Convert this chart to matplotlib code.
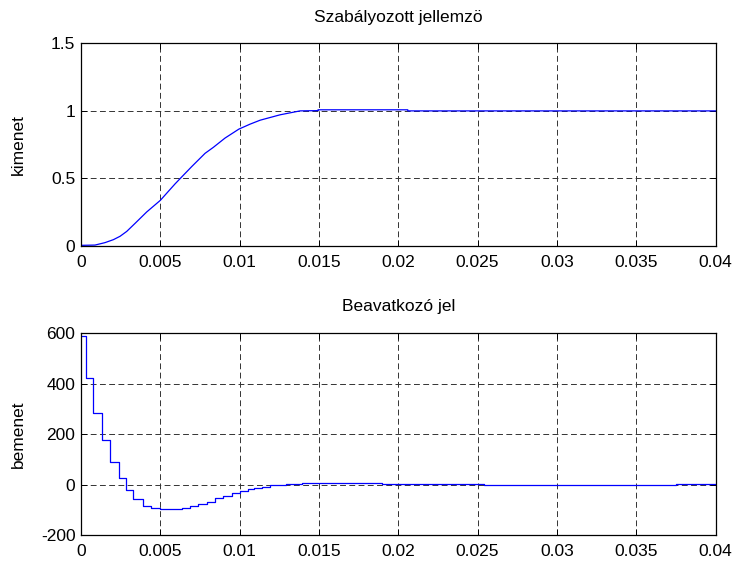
import matplotlib
matplotlib.use("Agg")
import matplotlib.pyplot as plt

# controlled variable (plant output)
t_out = [0, 0.00088, 0.00151, 0.00204, 0.00246, 0.00288, 0.00341, 0.00414,
         0.0050, 0.00551, 0.00593, 0.00624, 0.00698, 0.00782, 0.00834,
         0.00908, 0.00995, 0.01066, 0.01129, 0.01255, 0.01381, 0.01494,
         0.01494, 0.0206, 0.0206, 0.04]
y_out = [0.005, 0.007, 0.025, 0.047, 0.072, 0.108, 0.168, 0.252,
         0.338, 0.405, 0.46, 0.498, 0.588, 0.686, 0.73,
         0.799, 0.865, 0.902, 0.931, 0.971, 1.0, 1.002,
         1.008, 1.008, 1.0, 1.0]

# manipulated variable (controller output), held between samples
t_in = [0, 0.0003, 0.00078, 0.00134, 0.00183, 0.00242, 0.00282, 0.0033,
        0.0039, 0.0044, 0.005, 0.00635, 0.00687, 0.0074, 0.00793, 0.00845,
        0.00897, 0.0095, 0.01003, 0.01055, 0.0109, 0.0114, 0.0119, 0.0129,
        0.0139, 0.019, 0.0254, 0.0375, 0.04]
u_in = [590, 424, 286, 176, 91, 28, -22, -58,
        -83, -92, -96, -92, -84, -77, -67, -54,
        -45, -34, -25, -17, -12, -7, -1, 3,
        9, 3, 0, 2, 2]

xticks = [0, 0.005, 0.01, 0.015, 0.02, 0.025, 0.03, 0.035, 0.04]
xticklabels = ["0", "0.005", "0.01", "0.015", "0.02", "0.025", "0.03", "0.035", "0.04"]

plt.rcParams["font.family"] = ["Liberation Sans", "DejaVu Sans"]
plt.rcParams["font.size"] = 12.5
plt.rcParams["axes.unicode_minus"] = False

fig = plt.figure(figsize=(7.4, 5.64), dpi=100)
ax1 = fig.add_axes([0.1095, 0.5638, 0.8574, 0.3594])
ax2 = fig.add_axes([0.1095, 0.0509, 0.8574, 0.3581])

gridkw = {"color": "0.2", "linestyle": (0, (6, 3.5)), "linewidth": 0.7}

# upper panel: output
ax1.plot(t_out, y_out, color="#0000ff", lw=0.9)
ax1.set_ylim(0, 1.5)
ax1.set_yticks([0, 0.5, 1, 1.5])
ax1.set_yticklabels(["0", "0.5", "1", "1.5"])
ax1.set_title("Szabályozott jellemzö", fontsize=12.5, pad=15)
ax1.set_ylabel("kimenet")

# lower panel: control signal
ax2.step(t_in, u_in, where="post", color="#0000ff", lw=0.9)
ax2.set_ylim(-200, 600)
ax2.set_yticks([-200, 0, 200, 400, 600])
ax2.set_title("Beavatkozó jel", fontsize=12.5, pad=16)
ax2.set_ylabel("bemenet")

for ax in (ax1, ax2):
    ax.set_xlim(0, 0.04)
    ax.set_xticks(xticks)
    ax.set_xticklabels(xticklabels)
    ax.grid(True, **gridkw)
    ax.tick_params(direction="in", length=4, width=0.7, top=True, right=True)
    ax.tick_params(axis="x", pad=6.5)
    ax.tick_params(axis="y", pad=4)
    ax.yaxis.set_label_coords(-0.087, 0.5)
    for sp in ax.spines.values():
        sp.set_linewidth(0.9)

fig.savefig("out.png", dpi=100)
